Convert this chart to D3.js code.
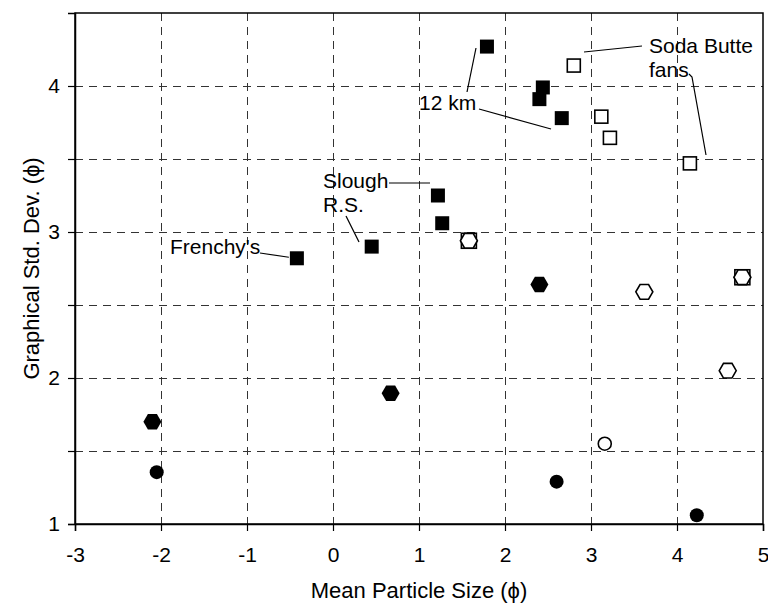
<!DOCTYPE html>
<html>
<head>
<meta charset="utf-8">
<script src="https://cdn.jsdelivr.net/npm/d3@7/dist/d3.min.js"></script>
<style>
  html, body { margin: 0; padding: 0; background: #fff; }
  svg { display: block; font-family: Arial, "Liberation Sans", Helvetica, sans-serif; }
</style>
</head>
<body>
<svg id="chart" width="768" height="607"></svg>
<script>
// Mean particle size (phi) vs graphical standard deviation (phi)
const xTicks = [-3, -2, -1, 0, 1, 2, 3, 4, 5];
const xTickLabels = ["-3", "-2", "-1", "0", "1", "2", "3", "4", "5"];
const yTicks = [1, 1.5, 2, 2.5, 3, 3.5, 4];
const yTickLabels = ["1", "", "2", "", "3", "", "4"];

// filled squares
const filledSquareX = [-0.42, 0.45, 1.22, 1.27, 1.79, 2.44, 2.40, 2.66];
const filledSquareY = [2.82, 2.90, 3.25, 3.06, 4.27, 3.99, 3.91, 3.78];
// open squares
const openSquareX = [2.80, 3.12, 3.22, 4.15];
const openSquareY = [4.14, 3.79, 3.645, 3.47];
// open hexagons drawn over an open square
const hexOnSquareX = [1.58, 4.76];
const hexOnSquareY = [2.94, 2.69];
// filled hexagons
const filledHexX = [2.40, -2.10, 0.67];
const filledHexY = [2.64, 1.70, 1.895];
// open hexagons
const openHexX = [3.62, 4.59];
const openHexY = [2.59, 2.05];
// filled circles
const filledCircleX = [-2.05, 2.60, 4.23];
const filledCircleY = [1.355, 1.29, 1.06];
// open circles
const openCircleX = [3.16];
const openCircleY = [1.55];

const svg = d3.select("#chart");
const margin = { left: 75, right: 5, top: 13, bottom: 83 };
const W = 768, H = 607;

const x = d3.scaleLinear().domain([-3, 5]).range([margin.left, W - margin.right]);
const y = d3.scaleLinear().domain([1, 4.5]).range([H - margin.bottom, margin.top]);

// dashed grid
const grid = svg.append("g").attr("stroke", "#333").attr("stroke-width", 1)
  .attr("stroke-dasharray", "8,6").attr("fill", "none");
grid.selectAll("line.v").data(xTicks.filter(d => d > -3 && d < 5)).join("line")
  .attr("x1", d => Math.round(x(d)) + 0.5).attr("x2", d => Math.round(x(d)) + 0.5)
  .attr("y1", y(4.5)).attr("y2", y(1));
grid.selectAll("line.h").data(yTicks.filter(d => d > 1)).join("line")
  .attr("y1", d => Math.round(y(d)) + 0.5).attr("y2", d => Math.round(y(d)) + 0.5)
  .attr("x1", x(-3)).attr("x2", x(5));

// frame
svg.append("rect")
  .attr("x", x(-3)).attr("y", y(4.5))
  .attr("width", x(5) - x(-3)).attr("height", y(1) - y(4.5))
  .attr("fill", "none").attr("stroke", "#000").attr("stroke-width", 1.5);

// axes
const xAxis = d3.axisBottom(x).tickValues(xTicks).tickSize(7).tickPadding(16)
  .tickFormat((d, i) => xTickLabels[i]);
const gx = svg.append("g").attr("transform", `translate(0,${y(1)})`).call(xAxis);
const yAxis = d3.axisLeft(y).tickValues(yTicks).tickSize(7).tickPadding(8)
  .tickFormat((d, i) => yTickLabels[i]);
const gy = svg.append("g").attr("transform", `translate(${x(-3)},0)`).call(yAxis);
[gx, gy].forEach(g => {
  g.select(".domain").attr("stroke", "#000").attr("stroke-width", 1.5);
  g.selectAll(".tick line").attr("stroke", "#000").attr("stroke-width", 1.2);
  g.selectAll(".tick text").attr("font-size", 21).attr("fill", "#000")
    .attr("font-family", "Arial, 'Liberation Sans', sans-serif");
});

// axis titles
svg.append("text")
  .attr("x", (x(-3) + x(5)) / 2).attr("y", 598)
  .attr("text-anchor", "middle").attr("font-size", 22)
  .text("Mean Particle Size (\u03D5)");
svg.append("text")
  .attr("transform", `translate(39,${(y(1) + y(4.5)) / 2}) rotate(-90)`)
  .attr("text-anchor", "middle").attr("font-size", 22)
  .text("Graphical Std. Dev. (\u03D5)");

// marker helpers
function zip(xs, ys) { return xs.map((v, i) => [v, ys[i]]); }
function hexPath(r) {
  const pts = d3.range(6).map(k => {
    const a = Math.PI / 3 * k;
    return [r * Math.cos(a), r * Math.sin(a)];
  });
  return "M" + pts.map(p => p.join(",")).join("L") + "Z";
}
const marks = svg.append("g");

function squares(data, fill, side) {
  marks.append("g").selectAll("rect").data(data).join("rect")
    .attr("x", d => x(d[0]) - side / 2).attr("y", d => y(d[1]) - side / 2)
    .attr("width", side).attr("height", side)
    .attr("fill", fill).attr("stroke", "#000").attr("stroke-width", fill === "#000" ? 0 : 1.6);
}
function hexes(data, fill, r) {
  marks.append("g").selectAll("path").data(data).join("path")
    .attr("transform", d => `translate(${x(d[0])},${y(d[1])})`)
    .attr("d", hexPath(r))
    .attr("fill", fill).attr("stroke", "#000").attr("stroke-width", fill === "#000" ? 0 : 1.6);
}
function circles(data, fill, r) {
  marks.append("g").selectAll("circle").data(data).join("circle")
    .attr("cx", d => x(d[0])).attr("cy", d => y(d[1])).attr("r", r)
    .attr("fill", fill).attr("stroke", "#000").attr("stroke-width", fill === "#000" ? 0 : 1.6);
}

squares(zip(filledSquareX, filledSquareY), "#000", 14);
squares(zip(openSquareX, openSquareY), "#fff", 13);
squares(zip(hexOnSquareX, hexOnSquareY), "#fff", 15);
hexes(zip(hexOnSquareX, hexOnSquareY), "#fff", 8.5);
hexes(zip(filledHexX, filledHexY), "#000", 9);
hexes(zip(openHexX, openHexY), "#fff", 8.5);
circles(zip(filledCircleX, filledCircleY), "#000", 7);
circles(zip(openCircleX, openCircleY), "#fff", 6.5);

// annotations and leader lines
const ann = svg.append("g").attr("font-size", 21).attr("fill", "#000");
function label(t, px, py) { ann.append("text").attr("x", px).attr("y", py).text(t); }
function leader(pts) {
  ann.append("path").attr("d", d3.line()(pts))
    .attr("fill", "none").attr("stroke", "#000").attr("stroke-width", 1.2);
}
label("Frenchy's", 170, 254);
leader([[260, 253], [x(-0.42) - 8, y(2.82) - 1]]);
label("Slough", 323, 188);
leader([[389, 183], [430, 183]]);
label("R.S.", 323, 212);
leader([[346, 216], [359, 242]]);
label("12 km", 419, 110);
leader([[467, 92], [476, 48]]);
leader([[479, 109], [551, 129]]);
label("Soda Butte", 649, 53);
leader([[642, 46], [584, 52]]);
label("fans", 649, 77);
leader([[689, 74], [692, 77], [706, 155]]);
</script>
</body>
</html>
